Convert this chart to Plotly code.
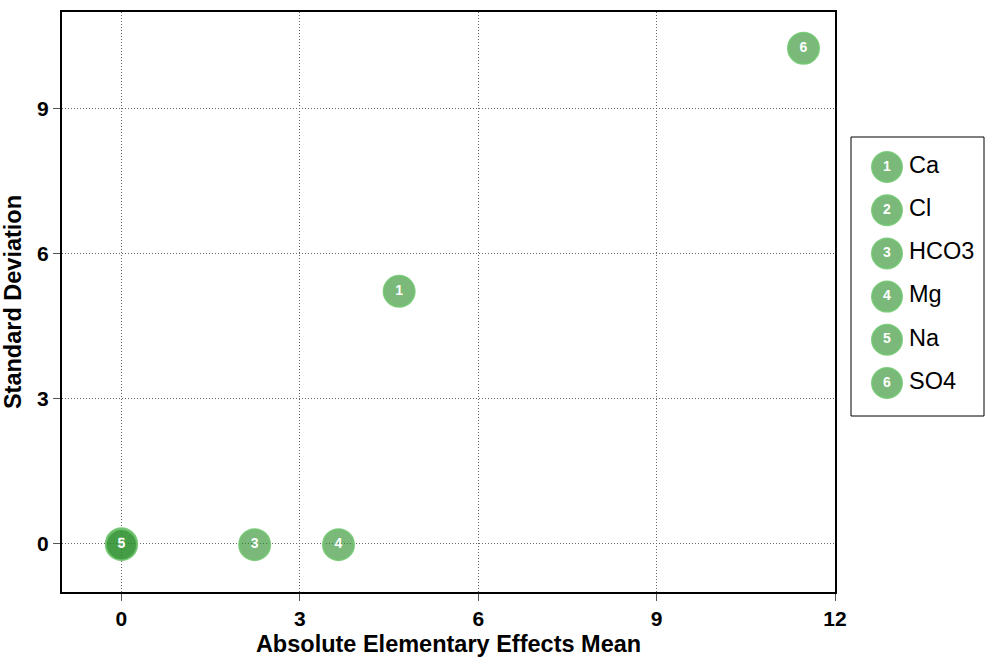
import plotly.graph_objects as go

# Elementary-effects screening results per ion
ids = ["1", "2", "3", "4", "5", "6"]
names = ["Ca", "Cl", "HCO3", "Mg", "Na", "SO4"]
mu_abs = [4.67, 0.0, 2.24, 3.65, 0.0, 11.47]
sigma = [5.22, 0.0, -0.02, -0.02, -0.02, 10.25]

x_ticks = [0, 3, 6, 9, 12]
y_ticks = [0, 3, 6, 9]

FONT = "Liberation Sans, Arial, sans-serif"
FILL = "rgba(34,139,34,0.6)"
RING = "rgba(110,195,110,0.85)"

W, H = 985, 659
ML, MR, MT, MB = 62, 0, 12, 67
plot_w = W - ML - MR
main_right = 835
leg_left, leg_right, leg_top, leg_bot = 851, 984, 137, 416
plot_h = H - MT - MB

fig = go.Figure()

# one trace per ion so each label sits with its own marker in draw order
for pid, name, mx, my in zip(ids, names, mu_abs, sigma):
    fig.add_trace(go.Scatter(
        x=[mx], y=[my], mode="markers+text", text=[pid], name=name,
        textposition="middle center",
        textfont=dict(family=FONT, size=14, color="white", weight="bold"),
        marker=dict(size=31, color=FILL, line=dict(color=RING, width=2)),
        showlegend=False, cliponaxis=False,
    ))

# custom legend drawn on its own small axes
n = len(names)
leg_h = leg_bot - leg_top
first, step = 30, 43.2
leg_y = [first + step * i for i in range(n)]
marker_px = 887 - leg_left
fig.add_trace(go.Scatter(
    x=[marker_px] * n, y=leg_y, xaxis="x2", yaxis="y2",
    mode="markers+text", text=ids, textposition="middle center",
    textfont=dict(family=FONT, size=14, color="white", weight="bold"),
    marker=dict(size=30, color=FILL, line=dict(color=RING, width=2)),
    showlegend=False, hoverinfo="skip", cliponaxis=False,
))
fig.add_trace(go.Scatter(
    x=[marker_px + 22] * n, y=leg_y, xaxis="x2", yaxis="y2",
    mode="text", text=names, textposition="middle right",
    textfont=dict(family=FONT, size=23.5, color="black"),
    showlegend=False, hoverinfo="skip", cliponaxis=False,
))

axis_common = dict(
    showline=True, linecolor="black", linewidth=2, mirror=True,
    showgrid=True, gridcolor="#666", griddash="1px,2px", gridwidth=1,
    zeroline=False, automargin=False,
    ticks="outside", ticklen=7, tickcolor="#555", tickwidth=1,
    tickfont=dict(size=21, family=FONT, weight="bold"),
)

fig.update_layout(
    width=W, height=H,
    margin=dict(l=ML, r=MR, t=MT, b=MB, autoexpand=False),
    paper_bgcolor="white", plot_bgcolor="white",
    font=dict(family=FONT, color="black"),
    xaxis=dict(
        domain=[0, (main_right - ML) / plot_w],
        range=[-1, 12], tickvals=x_ticks,
        title=dict(text="Absolute Elementary Effects Mean",
                   font=dict(size=23.5, family=FONT, weight="bold"), standoff=6),
        **axis_common,
    ),
    yaxis=dict(
        range=[-1, 11], tickvals=y_ticks,
        title=dict(text="Standard Deviation",
                   font=dict(size=23.5, family=FONT, weight="bold"), standoff=10),
        **axis_common,
    ),
    xaxis2=dict(
        domain=[(leg_left - ML) / plot_w, (leg_right - ML) / plot_w],
        range=[0, leg_right - leg_left], visible=False, anchor="y2",
        fixedrange=True, automargin=False,
    ),
    yaxis2=dict(
        domain=[(H - MB - leg_bot) / plot_h, (H - MB - leg_top) / plot_h],
        range=[leg_h, 0], visible=False, anchor="x2",
        fixedrange=True, automargin=False,
    ),
    shapes=[dict(type="rect", xref="x2 domain", yref="y2 domain",
                 x0=0, x1=1, y0=0, y1=1, line=dict(color="black", width=1))],
)

fig.write_html("out.html")
